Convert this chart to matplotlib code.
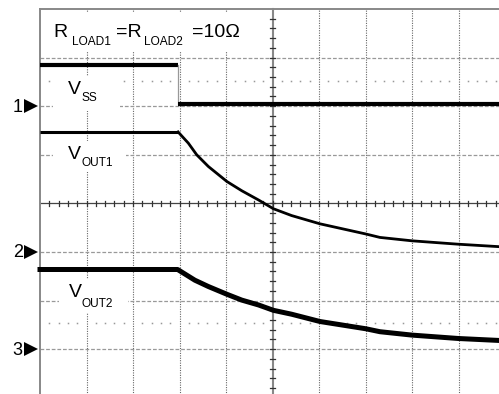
import matplotlib
matplotlib.use('Agg')
import matplotlib.pyplot as plt
from matplotlib.patches import Rectangle

# screen in divisions: x 0..10, y 0..8 (top border at 8)
# traces, in divisions
vssTime = [0.0, 2.96, 2.96, 10.0]
vssLevel = [6.84, 6.84, 6.04, 6.04]

vout1Time = [0.0, 2.97, 3.19, 3.37, 3.62, 4.02, 4.34, 4.70, 5.02, 5.41, 6.02,
             7.01, 7.31, 8.0, 9.0, 9.87, 10.0]
vout1Level = [5.47, 5.47, 5.24, 5.00, 4.76, 4.45, 4.26, 4.07, 3.89, 3.75, 3.58,
              3.37, 3.30, 3.23, 3.16, 3.11, 3.10]

vout2Time = [0.0, 2.96, 3.33, 3.62, 4.02, 4.34, 4.70, 5.02, 5.41, 6.02,
             7.01, 7.31, 8.0, 9.0, 9.87, 10.0]
vout2Level = [2.64, 2.64, 2.42, 2.29, 2.13, 2.01, 1.91, 1.80, 1.72, 1.57,
              1.42, 1.36, 1.29, 1.22, 1.18, 1.17]

channelMarks = ['1', '2', '3']
channelLevels = [6.0, 3.0, 1.0]

gridX = [1, 2, 3, 4, 6, 7, 8, 9]
gridY = [1, 2, 3, 5, 6, 7]
cursorY = [6.52, 1.53]

pxX = 46.5   # pixels per division
pxY = 48.6
fontName = 'Liberation Sans'


def toDiv(xp, yp):
    return (xp - 40) / pxX, 8 - (yp - 9) / pxY


def drawScreen(ax):
    # grid
    for gx in gridX:
        ax.plot([gx, gx], [-1, 8], color='#666666', lw=0.8, ls=(0, (1, 1.2)), zorder=1)
    for gy in gridY:
        ax.plot([0, 11], [gy, gy], color='#999999', lw=0.9, ls=(0, (3, 1.5)), zorder=1)
    # sparse cursor dots
    dots = [i * 0.2 for i in range(1, 50) if i % 5 != 0]
    for cy in cursorY:
        ax.plot(dots, [cy] * len(dots), ls='none', marker='s', ms=1.1, mew=0, color='#999999', zorder=1)
    # centre axes with minor ticks
    ax.plot([5, 5], [-1, 8], color='#888888', lw=1.5, zorder=1)
    ax.plot([0, 11], [4, 4], color='#444444', lw=0.9, zorder=1)
    for i in range(1, 40):
        ty = i * 0.2
        ax.plot([5 - 0.05, 5 + 0.05], [ty, ty], color='#333333', lw=0.9, zorder=1)
    for i in range(1, 55):
        tx = i * 0.2
        ax.plot([tx, tx], [4 - 0.05, 4 + 0.05], color='#333333', lw=0.9, zorder=1)
    # border
    ax.plot([0, 0], [-1, 8], color='#888888', lw=1.4, zorder=2)
    ax.plot([0, 11], [8, 8], color='#888888', lw=1.4, zorder=2)


def blank(ax, x0, y0, x1, y1):
    # white patch behind a label, given in pixels
    a = toDiv(x0, y1)
    b = toDiv(x1, y0)
    ax.add_patch(Rectangle(a, b[0] - a[0], b[1] - a[1], facecolor='white', edgecolor='none', zorder=3))


def label(ax, xp, yp, s, size):
    x, y = toDiv(xp, yp)
    ax.text(x, y, s, fontsize=size, family=fontName, ha='left', va='baseline', zorder=6)


def plotScope():
    fig = plt.figure(figsize=(4.99, 3.94), dpi=100)
    ax = fig.add_axes([0, 0, 1, 1])
    ax.set_xlim(-40 / pxX, 459 / pxX)
    ax.set_ylim(8 - 385 / pxY, 8 + 9 / pxY)
    ax.axis('off')

    drawScreen(ax)

    blank(ax, 44, 13, 250, 52)
    blank(ax, 53, 76, 120, 111)
    blank(ax, 53, 141, 126, 172)
    blank(ax, 59, 279, 128, 313)

    # traces
    ax.plot(vssTime[:2], vssLevel[:2], color='black', lw=3.0, solid_capstyle='butt', zorder=5)
    ax.plot(vssTime[1:3], vssLevel[1:3], color='#999999', lw=0.9, zorder=5)
    ax.plot(vssTime[2:], vssLevel[2:], color='black', lw=3.0, solid_capstyle='butt', zorder=5)
    ax.plot(vout1Time[:2], vout1Level[:2], color='black', lw=2.2, solid_capstyle='butt', zorder=5)
    ax.plot(vout1Time[1:], vout1Level[1:], color='black', lw=2.0, solid_joinstyle='round', zorder=5)
    ax.plot(vout2Time, vout2Level, color='black', lw=3.6, solid_joinstyle='round', zorder=5)

    # labels
    label(ax, 53, 36.7, 'R', 14)
    label(ax, 71.7, 45, 'LOAD1', 8.6)
    label(ax, 116, 36.7, '=R', 14)
    label(ax, 144, 45, 'LOAD2', 8.6)
    label(ax, 191.7, 36.7, '=10\u03a9', 14)

    label(ax, 68.3, 94, 'V', 14)
    label(ax, 81, 101, 'SS', 8.6)
    label(ax, 68.3, 159.3, 'V', 14)
    label(ax, 81, 166, 'OUT1', 8.6)
    label(ax, 69, 297.3, 'V', 14)
    label(ax, 81, 306.7, 'OUT2', 8.6)

    # channel ground markers
    for mark, lev in zip(channelMarks, channelLevels):
        ax.text(-0.585, lev - 0.02, mark, fontsize=13, family=fontName, ha='left', va='center')
        ax.plot([-0.183], [lev], marker='>', ms=9.5, mew=0, color='black', clip_on=False)

    fig.savefig('out.png', dpi=100)
    plt.close(fig)


if __name__ == '__main__':
    plotScope()
